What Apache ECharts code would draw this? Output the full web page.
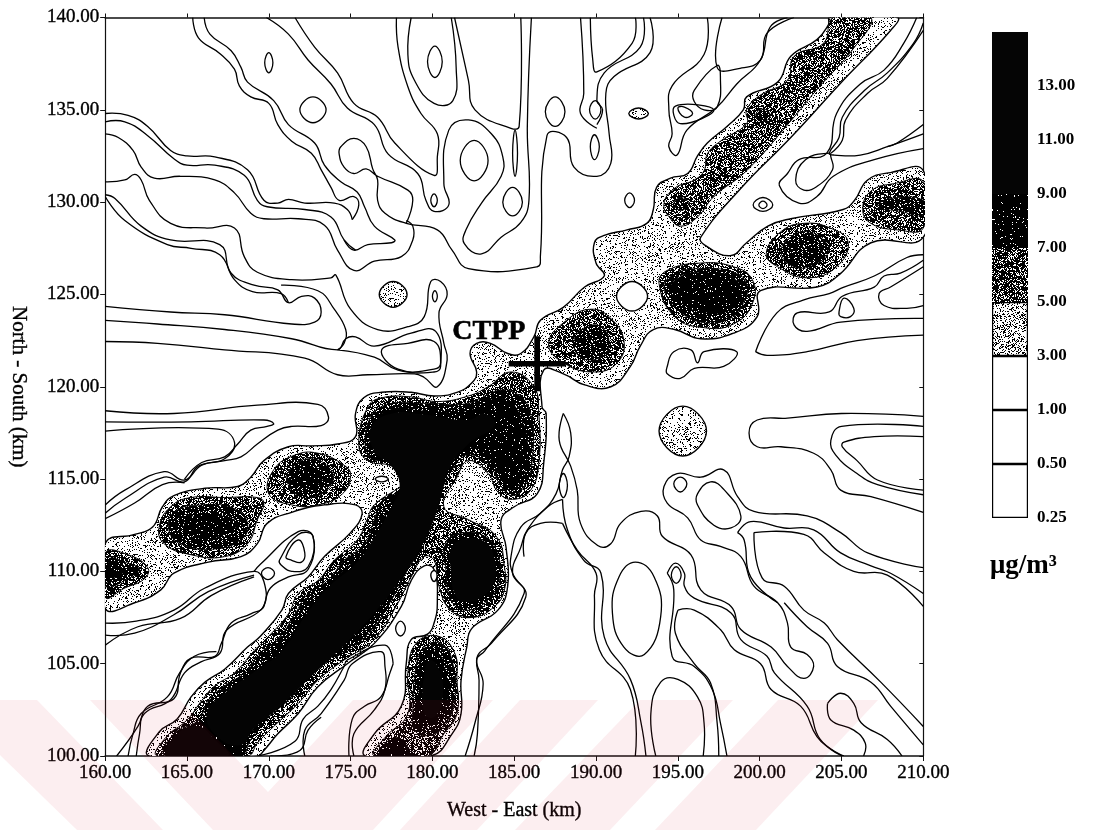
<!DOCTYPE html>
<html><head><meta charset="utf-8">
<style>html,body{margin:0;padding:0;background:#fff}#c{width:1093px;height:830px}</style>
<script src="https://cdn.jsdelivr.net/npm/echarts@6/dist/echarts.min.js"></script>
</head><body><div id="c"></div>
<script>
// ---------- values: contours in km (West-East, North-South) ----------
const scaleTicks = ['0.25','0.50','1.00','3.00','5.00','7.00','9.00','11.00','13.00',''];
const scaleBands = [1,1,1,1,1,1,1,1,1];
const sourceSite = [186.4,121.25];
const sourceLabelAt = [183.45,123.0];

const level3 = [
 [[162.7,100],[163.3,101.3],[164.4,102],[165.25,103.2],[166.1,104],[167.3,104.7],[168.7,105.9],[169.5,106.5],[170.8,107.9],[171.2,108.8],[172.4,109.7],[173.4,110.8],[175,112.1],[175.7,113.1],[175.3,113.6],[173.4,113.6],[171.4,113.2],[169.9,112.6],[169.3,111.5],[168.3,110.8],[166.3,110.5],[164.2,109.9],[163.4,109],[161.8,108.3],[160,108],[160,111.5],[161.8,112],[162.9,112.4],[163.5,113.5],[164.2,114.1],[166.1,114.5],[168.1,114.6],[168.9,115.1],[169.7,116],[171.2,116.75],[172.6,116.8],[174.2,116.9],[175.3,117.3],[175.3,118.55],[175.8,119.4],[176.9,119.7],[178.7,119.7],[180.1,119.5],[181.5,119.7],[182.4,120.2],[182.7,120.8],[182.3,121.8],[182.7,122.35],[183.55,122.35],[184.6,121.8],[185.4,121.8],[186.2,122.7],[186.6,123.6],[188,124.3],[189.3,125.4],[190.5,126],[190,126.7],[189.9,127.8],[190.5,128.2],[191.9,128.5],[193.1,128.85],[193.5,129.6],[193.7,130.8],[194.55,131.3],[195.6,131.55],[196.2,132.5],[196.8,133.2],[198,134.1],[199,135],[199.2,135.7],[201.1,136.5],[201.9,137.9],[203.5,138.8],[204.2,139.6],[204.3,140],[208.4,140],[208,139.3],[204.9,136.4],[201.9,133.5],[198.8,130.7],[196.4,128.1],[196.6,127.7],[198.2,127.1],[199.2,127.8],[200.5,128.7],[201.9,129.1],[205.1,129.6],[205.8,130.1],[206.6,131.2],[208,131.6],[210,131.7],[210,128.1],[206.8,127.8],[204.9,126.1],[203.5,125.4],[200.05,125.2],[199.85,123.8],[198.4,122.9],[196.4,122.6],[194.8,123.1],[193.5,123.1],[192.7,122.2],[192.1,121.1],[190.9,120],[189.3,120.1],[188,120.7],[186.8,120.9],[186.7,118.9],[186.95,118.55],[186.8,115.85],[186.4,114.2],[185,113.5],[184.2,112.8],[184.5,111.3],[184.6,109.2],[184,107.9],[182.4,106.9],[182.1,105.9],[181.75,104.1],[181.75,102.3],[181.2,101.2],[179.9,100],[175.9,100],[176.45,101.2],[178.1,102.7],[178.4,105],[178.7,106.3],[179.7,106.6],[180.1,107.2],[180.3,108.3],[180.1,110.1],[179.5,110.3],[178.7,109.5],[178.1,108.1],[176.45,106.1],[174.8,105],[173,103.75],[171.8,102.3],[170.55,101.2],[169.7,100.3],[169.3,100]],
 [[177.6,125.7],[178.45,125],[177.6,124.3],[176.75,125]],
 [[195.3,118.95],[196.75,117.6],[195.3,116.25],[193.85,117.6]],
 [[192.6,135.1],[193.2,134.8],[192.6,134.5],[192,134.8]]
];
const level3Holes = [
 [[192.2,125.7],[193.15,124.9],[192.2,124.1],[191.25,124.9]],
 [[176.9,115.15],[177.3,115],[176.9,114.85],[176.5,115]],
 [[180.1,110.05],[180.3,109.8],[180.1,109.45],[179.9,109.8]]
];
const level5 = [
 [[163.2,100],[163.7,101],[165,101.95],[165.9,103],[166.7,103.8],[167.9,104.5],[169.1,105.7],[169.9,106.4],[171.2,107.7],[171.8,108.8],[173,109.5],[174,110.6],[175.4,111.7],[176,112.8],[176.45,113.6],[178.3,114.8],[178.1,115.1],[177.5,115.7],[176.05,116],[175.5,116.9],[176.05,118.9],[176.9,119.4],[178.7,119.45],[180.3,119.2],[182.2,119.5],[183.4,120],[184.8,120.8],[186.2,120],[186.5,118.55],[186.5,115.85],[186,114.4],[184.9,113.9],[184,114.3],[183.4,115.3],[182.2,116],[181.5,115.1],[180.7,113.5],[182.2,112.8],[183.9,111.9],[184.4,110.25],[184.4,109],[183.8,108.1],[182.4,107.5],[181.1,107.9],[180.4,109.2],[180.1,110.6],[179.5,110.8],[178.7,109.7],[177.9,108.3],[176.45,106.3],[174.6,105.2],[173,104.1],[171.8,102.85],[170.3,101.6],[169.3,100.7],[168.7,100]],
 [[160,111],[161.4,110.9],[162.6,110.2],[162.4,109.6],[161.2,109.1],[160,108.6]],
 [[163.3,112.4],[164,113.5],[165.25,114],[167.3,114],[169.3,114],[169.7,113.7],[169.3,112.8],[168.7,111.5],[167.3,110.8],[165.25,110.9],[163.6,111.5]],
 [[170,114.2],[170.3,115.5],[171.6,116.3],[173,116.4],[174.6,115.75],[175,115.2],[174.5,114.2],[173,113.6],[171.4,113.6]],
 [[178.5,104.5],[179,106.1],[180.3,106.5],[181.35,105.6],[181.5,104.1],[181.5,102.3],[180.7,101.2],[179.7,100],[176.45,100],[177.1,101],[178.5,102.3]],
 [[187.1,122.35],[188.2,123.6],[189.7,124.2],[190.9,123.7],[191.7,122.5],[191.3,121.3],[189.9,120.8],[188,121.3]],
 [[193.85,125.6],[194.35,126.3],[196.4,126.7],[198.4,126.5],[199.55,125.8],[199.55,124.5],[198.4,123.4],[196.6,123.2],[194.8,123.8]],
 [[200.4,127.2],[201.3,128.4],[202.7,128.85],[204.3,128.6],[205.4,127.85],[204.7,126.5],[202.9,125.9],[201.1,126.5]],
 [[206.3,129.6],[206.8,130.6],[208.2,131],[210,131.1],[210,128.6],[208.4,128.5],[206.8,128.85]],
 [[194.15,129.9],[194.8,130.75],[196,131.2],[196.6,131.7],[196.8,132.6],[197.6,133.3],[199.2,134.25],[199.2,135],[200.05,135.8],[201.7,136.6],[202.1,137.9],[203.9,138.6],[204.5,140],[206.8,140],[205.8,138.4],[203.5,136.1],[201.9,134.4],[199.2,131.7],[197.2,130.3],[196.2,129.2],[195.2,128.7],[194.55,129.1]]
];
const level7 = [
 [[163.7,100],[164.2,101.2],[165.7,101.95],[166.3,103],[167.3,103.8],[168.5,104.5],[169.5,105.6],[170.55,106.3],[171.6,107.7],[172.4,108.8],[173.6,109.5],[174.6,110.6],[175.85,111.5],[176.45,112.8],[176.9,113.8],[178.3,114.6],[177.5,115.85],[176.15,116.2],[176.05,118],[177.1,119],[179.5,119.1],[182.2,119.1],[184,119.8],[185.2,119.6],[186,118.55],[186.1,116],[185.6,114.6],[184.9,114.1],[184.2,114.6],[183.5,115.7],[182.2,116.3],[181.2,115.5],[180.3,113.7],[179.5,111.5],[178.5,110.1],[177.5,108.45],[176.05,106.6],[174.2,105.4],[172.6,104.5],[171.4,103.2],[169.9,102],[168.9,100.9],[168.3,100]],
 [[160,110.7],[161.2,110.5],[162.1,110.1],[161.4,109.6],[160,109.2]],
 [[163.9,112.2],[164.2,113.2],[165.9,113.6],[167.9,113.4],[168.7,112.6],[168.3,111.7],[166.5,111.2],[164.6,111.5]],
 [[171.1,115],[171.6,115.75],[172.6,116.1],[173.7,115.6],[173.9,114.85],[173,114.1],[171.8,114.1]],
 [[180.8,110.25],[180.8,111.5],[181.5,112],[182.97,112],[183.9,111.15],[184.1,109.5],[183.4,108.45],[182.2,107.9],[181.2,108.35]],
 [[178.8,102.3],[179,104.85],[179.5,105.9],[180.5,106.1],[181.2,105.2],[181.35,103],[180.7,101.6],[179.7,101.1],[178.9,101.4]],
 [[188.65,122.5],[189.3,123.2],[190.3,123.25],[190.8,122.35],[190.3,121.6],[189.05,121.6]],
 [[194.15,125.4],[194.8,126.1],[196.4,126.4],[198.4,126.2],[199.2,125.6],[199.1,124.7],[198.2,123.7],[196.4,123.5],[195,124.2]],
 [[201.3,127.3],[201.9,128.1],[202.9,128.4],[203.9,127.95],[204.2,127.3],[203.3,126.6],[202.1,126.5]],
 [[207.2,129.75],[208,130.2],[210,130.1],[210,129.3],[208.6,129.5]],
 [[195.2,130.25],[195.65,129.9],[195.2,129.55],[194.75,129.9]],
 [[200.2,135.05],[200.65,134.7],[200.2,134.35],[199.75,134.7]]
];
const level9 = [
 [[164.4,100],[165,101.2],[166.5,102.3],[167.3,103.2],[168.7,104.1],[169.9,105.2],[171.2,106.3],[172.2,107.7],[173.2,108.8],[174.6,110.1],[176.25,111.3],[177.1,113.1],[177.6,114],[178.1,114.8],[177.5,115.85],[176.45,116.4],[176.25,117.8],[177.5,118.8],[179.5,118.7],[182.2,118.7],[184.2,119.4],[185.4,118.4],[185.8,116],[185,114.4],[184.2,115.1],[183.4,116.2],[182.2,116.7],[180.9,115.5],[179.9,113.5],[179.5,111.9],[178.5,110.2],[177.5,108.9],[176.3,107.4],[174.2,105.7],[172.6,104.6],[171.2,103.4],[169.8,102.1],[168.8,101.1],[168.2,100]],
 [[160,110.4],[160.8,110.25],[161.2,110],[160.6,109.7],[160,109.4]],
 [[164.8,112.4],[165.45,113],[167.3,113],[168.1,112.6],[167.3,112],[165.7,111.8]],
 [[171.4,115],[172.2,115.6],[173,115.5],[173.3,115],[172.6,114.6],[171.8,114.6]],
 [[179.2,103.75],[179.5,105.4],[180.3,105.6],[180.8,104.7],[180.9,103],[180.3,102],[179.5,101.6],[179,102.3]],
 [[176.65,100],[177.1,100.7],[177.9,101],[178.7,100.3],[179,100]],
 [[194.55,125.3],[195.2,126],[196.6,126.2],[198.2,126],[198.9,125.2],[198.4,124.25],[197,124],[195.4,124.4]]
];
const level11 = [
 [[167.3,103.4],[168.7,104.3],[170.8,105.7],[172.3,107.7],[173.7,109.2],[175.3,110.4],[176.35,111.7],[177.5,113.5],[178,114.6],[177.5,115.7],[176.45,116.5],[176.25,117.8],[177.5,118.55],[179.5,118.5],[182.2,118.2],[183.2,118.55],[183.8,117.9],[182.2,116.9],[181,115.5],[180.3,113.3],[179.3,111.3],[178,109.5],[176.6,107.9],[174.6,106],[172.6,104.3],[170.6,102.6],[169,101.4],[168.3,100.6],[166.9,101],[166.2,102.3]],
 [[163.8,100],[164.4,101.2],[165.7,101.6],[166.7,100.9],[167.5,100]],
 [[181.1,110.25],[181.1,111.15],[181.75,111.7],[183,111.7],[183.7,111],[183.8,109.5],[183,108.6],[182,108.35],[181.35,108.8]],
 [[179.5,104.5],[179.9,105.2],[180.5,104.5],[180.6,103],[180.1,102.1],[179.5,102.3]]
];
const openContours = [
 [[165.35,140],[165.7,138.9],[167,138.05],[167.9,137.2],[168.2,136.3],[168.9,135.7],[170,135.35],[170.55,134.2],[171.4,133.3],[172.6,132.65],[173.2,131.75],[173.8,130.8],[174.3,130.1],[175.2,130.3],[175.5,129.85],[175.1,129.05]],
 [[166.05,140],[166.4,139.1],[167.7,138.2],[168.3,137.3],[168.7,136.5],[170.3,135.5],[171.2,134.2],[172.8,133.2],[173.4,132],[174.4,131.1],[175.4,130.55],[175.85,129.75],[176.45,128.7],[177.7,127.95],[177.5,127.8],[176.05,127.7],[175.2,127.4],[174.6,127.95]],
 [[160,134.8],[161.4,134.7],[162.6,134.1],[164,132.8],[165,132.5],[166.7,132.45],[168.7,131.75],[169.7,130.1],[170.55,129.95],[171.2,130.15],[172.2,129.95],[174,129.95],[174.8,129.6],[175.1,129.05]],
 [[160,134.35],[161.2,134.35],[162.6,133.6],[164.2,132.35],[165,132],[166.7,132],[168.5,131.45],[169.3,130.1],[169.9,129.75],[172.2,129.6],[173.8,129.2],[174.6,127.95],[175.3,127.4]],
 [[160,133.7],[160.8,133.5],[161.7,132.8],[162.2,131.9],[163,131.3],[164.6,131.4],[166.7,131.2],[167.9,130.5],[168.9,129.4],[169.7,129.1],[171.8,129.1],[173.4,128.75],[174.2,127.4],[175.2,126.3],[176.45,126.8],[178.1,127.05],[178.8,127.95],[178.8,128.7],[178.4,129]],
 [[178.4,128.85],[178.8,130.1],[178.5,130.65],[176.65,131.4],[175.95,131.8],[175.2,131.55],[174.6,131.9],[174.3,132.6],[174.4,133],[175.2,133.45],[175.95,133],[176.35,131.8],[176.65,131.2],[176.65,130.1],[177.1,129.4],[178.4,128.85],[180.3,128.5],[181.2,127.4],[182.2,126.4],[186.4,126.5],[186.6,127.1],[187,133.6],[188.2,133.5],[188.65,131.9],[190.05,131.4],[190.9,132.1],[190.8,133.7],[190.6,135.9],[191.1,136.8],[193.3,138.1],[193.3,140]],
 [[160,131.1],[161.2,131.2],[161.8,131.5],[162.2,131.2],[162.7,130.1],[164,128.85],[166.1,128.6],[167.9,128.6],[168.5,127.05],[169.3,126.2],[171.4,125.8],[173.8,125.9],[174.1,126.05],[175,124.2],[176.65,123.1],[178.5,123.25],[179.5,123.8],[179.9,125.7],[180.5,125.7],[180.9,125],[180.4,124],[180.7,122.35],[180.9,121.45],[180.3,120],[179.5,120.5],[178.9,120.7],[176.05,120.65],[174.2,120.65],[172.2,121.55],[167.3,122],[163.2,122.35],[160,122.45]],
 [[160,130.4],[160.6,130.2],[162.2,128.7],[164,127.95],[167,127.7],[167.7,126.15],[169.1,125.5],[170.55,125.25],[171.2,124.55],[172,124.9],[172.8,124.8],[173.2,124.05],[172.8,123.5],[171.4,123.4],[167.3,123.9],[164,124.05],[160,124.35]],
 [[160,130.3],[161.2,129],[163.8,127.7],[165.25,127.5],[167,127.15],[167.9,125.8],[169,125.15],[170.75,125.05],[171.2,124.55]],
 [[170.75,125.5],[173,125.2],[174,124.2],[174.7,123.1],[174.6,122.35],[174.2,122]],
 [[160,123.6],[163.2,123.4],[167.3,123.1],[171.4,122.6],[174.2,122],[174.7,122.6],[175.3,122.7],[176.45,122.2],[178.7,122.9],[180.2,123],[180.5,121.1],[180.1,120.8],[177.9,120.9],[176.45,121.6],[174.2,122]],
 [[177.8,140],[177.9,138.4],[178.5,136.25],[179.3,134.8],[180.3,133.7],[180.3,132.45],[180.1,131.45],[177.7,133.2],[176.65,134.6],[175.2,135.35],[174.2,137],[172.8,138.4],[171.6,140]],
 [[169.85,140],[171.2,139.1],[172.4,137.7],[173.8,136.4],[174.8,135.1],[176.45,134.2],[177.3,132.6],[179.1,131.55],[179.6,130.1],[180.1,129.5],[181,129.85],[180.7,131],[181,133.9],[182.2,134.45],[183.6,133.7],[184.3,132.45],[184.2,131.4],[183,129.95],[182.05,128.5],[181.95,127.75],[183,127.2],[184.2,128.1],[185.4,128.9],[185.9,130.1],[185.8,134.1],[186.05,140]],
 [[181.35,140],[182.2,136.6],[182.6,135],[184.8,134],[185.3,134.1],[185.4,140]],
 [[178.7,140],[178.5,138],[178.9,136.6],[180.1,135.35],[181.25,135.5],[181.45,137.3],[181.15,140]],
 [[189.05,140],[189.25,135.9],[189.05,134.8],[190.05,134]],
 [[189.65,140],[189.8,137.7],[190.05,137.05],[192.2,138.6],[192.4,140]],
 [[192.9,140],[192.7,138.4],[190.5,137],[190.05,135.5],[190.4,135],[190.05,134.2]],
 [[196.8,140],[196.6,138],[194.65,136.3],[194.45,135],[194.65,133.7],[194.45,133],[194.95,132.55],[195.55,133.9],[197.4,135.15],[198.6,136.4],[200.05,137.7],[200.65,139.5],[201.7,140]],
 [[197.7,140],[197.4,137.3],[198.8,137.25],[200.05,137.7],[200.45,139.15],[202.1,140]],
 [[209.6,140],[208.8,138.6],[207.6,137.15],[206.15,136.4],[204.7,134.8],[204.1,132.65],[202.4,132.3],[201.7,131.55],[201.2,130.9],[202.4,129.95],[203.5,130.3],[204.5,131.4],[207,132.3],[210,132.9]],
 [[210,139.7],[209.4,138.6],[207.8,137],[206.4,136.05],[205.05,134.6],[204.85,133.5],[204.25,132.65],[204.55,132.55],[206.15,132.55],[207.8,133],[210,133.7]],
 [[210,139.3],[207.8,136.7],[206.6,135.9],[205.25,134.45],[205.05,133.35],[204.35,132.65]],
 [[210,134.2],[208.4,133.2],[207.8,133]],
 [[199.75,121.9],[201.05,124],[202.7,124.7],[204.25,125.05],[205.15,125.4],[207,126],[209,127],[210,127.15]],
 [[210,126.85],[208.6,126.15],[207.6,126],[207,125.4],[205.05,124.9],[204.25,124.05],[202.3,124],[202.1,123.35],[202.9,123],[204.95,123.5],[210,123.7]],
 [[199.75,121.9],[200.45,121.7],[202.9,121.9],[205.95,122.5],[210,122.8]],
 [[210,126.5],[208,125.4],[207.3,125.05],[207.6,124.4],[209,124.25],[210,124.4]],
 [[210,118.4],[205,118.55],[201.7,118.3],[199.85,118.2],[199.35,117.5],[199.85,116.75],[201.3,116.75],[203.3,116.4],[204.35,115.5],[204.95,114.4],[206.8,114.05],[210,113.2]],
 [[210,117.85],[205,117.85],[204.35,117.1],[204.65,116.3],[205.95,115.3],[207.2,114.7],[210,114.15]],
 [[210,117.3],[207,117.3],[205.15,117],[205.05,116.75],[205.95,116],[207.2,114.95],[210,114.4]],
 [[188,118.55],[187.75,117.1],[188.45,115.7],[188.85,114.4],[189.05,112.6],[190.1,111.4],[190.9,111.5],[191.5,112.6],[192.75,113.25],[193.75,113],[194.05,111.9],[195.8,110.9],[196.4,109],[198.25,108.1],[198.85,106.85],[200.7,105.9],[201.7,104.85],[202.7,104.2],[203.3,104.85],[202.9,105.5],[201.9,105.9],[201.7,107.2],[201.1,108.3],[199.65,109.2],[198.85,110.8],[197.6,111.35],[196.4,111.7],[195.6,112.9],[194.35,113.7],[194.15,114.6],[194.95,115.3],[196.4,115.1],[197.8,115.5],[198.65,114.05],[199.65,113.25],[202.9,113],[204.95,112.1],[206.6,111],[210,110.2]],
 [[188,118.55],[188.45,117.5],[188.35,116.2],[187.95,115.5],[187.55,114.2],[186.6,113.15],[185.4,112.4],[184.8,110.8],[184.9,109.9],[185.7,108.6],[183.6,106.1],[182.75,105.4],[182.85,104.1],[182.75,101.2],[182.55,100]],
 [[187.95,113.9],[187.05,113.5],[185.8,112.25],[185.4,111.3],[184.9,109.9],[185.6,108.8],[183.2,105.7],[182.7,105.2],[183.1,103.9],[182.6,101.8],[182,100]],
 [[187.95,112.6],[186.6,112.6],[185.7,112.05],[185.6,110.8]],
 [[187.95,113.9],[188.25,112.25],[189.25,110.6],[190.3,109.9],[190.5,106.45],[192.1,104.15],[192.75,101.8],[193.05,100]],
 [[187.95,112.6],[188.85,111.15],[190,109.9],[189.9,108.65],[190.2,105.75],[192.1,103.6],[192.4,100]],
 [[194.35,109.9],[194.85,110.45],[195.4,109.9],[195.4,109.2],[196,108.55],[198.25,107.75],[198.85,106.3],[200.45,105.4],[200.9,104.5],[202.9,102.7],[203.7,100.9],[205.15,100]],
 [[194.35,109.9],[194.75,109],[194.65,105.4],[196,104.85],[197.1,103.6],[197.6,101.8],[198,100]],
 [[195,107.9],[196,107.9],[197.6,106.85],[198.45,105.75],[200.05,105],[200.7,103.6],[202.5,102.7],[203.5,101.05],[204.35,100.35],[205.05,100]],
 [[195,107.9],[194.85,106.65],[196,105],[197,103.95],[197.4,101.8],[197.5,100]],
 [[193.65,100],[193.35,102.3],[193.95,104],[195,104.15],[196.2,103.2],[196.6,101.8],[196.55,100]],
 [[198.65,112.1],[199.45,112.7],[201.5,112.35],[203.3,112.25],[204.95,111],[206.8,110.3],[208,109.9],[210,108.8]],
 [[199.65,112.1],[202.7,112],[203.95,111],[205.75,110],[207.8,109.8],[210,108.1]],
 [[198.65,112.1],[199.05,111.7],[199.45,109.7],[201.1,108.3]],
 [[199.65,112.1],[200.15,109.65],[201.5,109.2],[202.7,107.9],[203.95,107.2],[204.75,106.3],[207.4,104],[210,101.6]],
 [[201.5,108.3],[202.9,107],[204.15,106.1],[204.75,104.85],[206.8,104],[208,102.7],[210,100.6]],
 [[204.15,102.85],[204.95,103.4],[205.75,102.85],[206.2,101.8],[207.8,100.9],[208.7,100]],
 [[204.15,102.85],[204.35,101.95],[205.75,101.4],[206.45,100.7],[206.35,100]],
 [[160,118.7],[164.2,118.55],[169.3,119],[173,119.05],[173.65,118.35],[173.2,117.9],[171.4,117.85],[170.55,117.65],[169.3,116.9],[168.3,116.2],[167.3,116],[165.9,115.75],[164.85,114.95],[163.6,115.4],[161.2,114.4],[160,113.6]],
 [[160,118.1],[165.25,118.1],[169.7,118.2],[170.3,118],[169.9,117.85],[168.9,117.65],[168.1,116.9],[167.3,116.2],[165.9,115.9],[164.85,115]],
 [[160,117.6],[166.9,117.7],[167.9,117],[167.3,116.1],[165.7,115.7],[164.85,114.85],[163.6,115.1],[161.2,113.95],[160,113.15]],
 [[160,112.85],[161.8,113.7],[163.5,114.7],[164.85,114.8]],
 [[160,107.2],[161.9,107.3],[164.2,107.9],[166.1,109.1],[169.1,110],[169.7,109.45],[169.7,108.1],[168.9,107.7],[167.7,107.2],[167.1,106.1],[166.7,105.4],[165.25,105.3],[164.6,104.5],[164.2,103.1],[162.6,102.7],[162,101.6],[160.7,100]],
 [[160,106.55],[161.8,106.65],[164.2,107.65],[166.3,108.9],[169.1,109.8]],
 [[160,106],[162,107],[164.6,107.45],[166.5,108.7],[169.1,109.7]],
 [[161.9,100],[162.1,101.2],[162.4,102.3],[164,103.05],[164.85,104.5],[165.85,105.1],[167,105.55],[167.4,106.8],[169.5,107.9],[170.1,109.1],[171.2,109.7],[172.4,110.1],[172.7,111.9],[171.8,112.15],[169.5,110.4],[169.1,110]],
 [[161.4,100],[161.7,101.2],[162.2,102.3],[163.8,103.2],[164.55,104.5],[165.45,105.4],[166.8,105.65]],
 [[169.3,100],[171.6,100.8],[172.1,102],[173,102.7],[173.8,103.6],[174.6,104.85],[174.8,105.2],[177.1,106],[177.6,105]],
 [[172.2,100],[172.2,101.4],[173.2,102.3],[174.6,104.1],[175.1,105],[176.85,105.65],[177.1,104.85],[177.1,103.6],[176.45,102.5],[175.2,101.2],[175.2,100]],
 [[174.9,100],[175.1,102],[175.85,102.7],[176.85,103.2],[177.4,104.5],[177.6,105]],
 [[170.1,100],[171.9,100.3],[172.4,101.4],[173.2,102.1]]
];
const closedContours = [
 [[176.9,122],[178.5,122.35],[180.1,122.45],[180.5,121.3],[180.1,120.95],[177.9,120.95]],
 [[170,138.1],[170.25,137.55],[170,137],[169.75,137.55]],
 [[172.7,135.7],[173.5,135],[172.7,134.3],[171.9,135]],
 [[180.15,138.45],[180.6,137.6],[180.15,136.75],[179.7,137.6]],
 [[182.55,133.35],[183.4,132.25],[182.55,131.15],[181.7,132.25]],
 [[185.05,133.9],[185.2,132.65],[185.05,131.4],[184.9,132.65]],
 [[184.9,130.8],[185.5,130],[184.9,129.25],[184.3,130]],
 [[180.1,130.45],[180.3,130.1],[180.1,129.75],[179.9,130.1]],
 [[180.15,125.2],[180.3,124.9],[180.15,124.6],[180,124.9]],
 [[187.5,135.7],[188.1,134.9],[187.5,134.1],[186.9,134.9]],
 [[189.95,135.5],[190.3,135],[189.95,134.5],[189.6,135]],
 [[189.9,133.65],[190.2,133],[189.9,132.3],[189.65,133]],
 [[192.05,130.5],[192.35,130.1],[192.05,129.7],[191.75,130.1]],
 [[197.4,137.4],[196,136.05],[196,135.45],[196.6,135],[197.4,135.15],[197.6,136.8]],
 [[195,135.1],[195.4,135.15],[195.9,134.8],[195.4,134.6]],
 [[194.85,135.2],[195.15,134.25],[197.2,135]],
 [[200.2,130.25],[200.8,129.85],[200.2,129.5],[199.6,129.85]],
 [[200.2,130.05],[200.45,129.85],[200.2,129.65],[199.95,129.85]],
 [[204.25,132.65],[202.8,132.3],[202.2,131.2],[202.7,130.65],[203.5,130.85],[204.45,131.75],[204.35,132.45]],
 [[204.85,124.05],[205.15,124.8],[205.75,124.25],[205.55,123.8],[204.95,123.8]],
 [[194.35,121.1],[194.75,121.9],[195.8,122],[196.2,121.3],[196.6,121.9],[198.6,121.9],[197.8,121.1],[196,121],[195.15,120.45],[194.35,120.7]],
 [[188,115.3],[188.25,114.65],[188,114],[187.75,114.65]],
 [[192.4,110.5],[193.55,109.7],[193.95,107.55],[192.95,105.5],[191.7,105.9],[191,107.75],[191.4,109.7]],
 [[194.9,110.25],[195.2,109.8],[194.9,109.35],[194.6,109.8]],
 [[195.15,115.1],[195.55,114.75],[195.15,114.3],[194.75,114.75]],
 [[196.2,114.2],[197,114.85],[197.85,114.4],[198.85,113],[198.25,112.35],[197.2,112.5],[196.2,113.6]],
 [[169.95,110.2],[170.35,109.9],[169.95,109.55],[169.55,109.9]],
 [[171.05,110.8],[171.8,111.7],[172.2,111],[172,110.5],[171.4,110.6]],
 [[170.65,110.6],[171.8,112],[172.7,111.9],[172.4,110.25],[171.4,110],[170.75,110.35]],
 [[178.05,107.3],[178.35,106.9],[178.05,106.5],[177.75,106.9]]
];

// ---------- scanned stipple textures (only styling) ----------
function speckle(density, seed) {
  const n = 128, c = document.createElement('canvas');
  c.width = c.height = n;
  const g = c.getContext('2d');
  g.fillStyle = '#fff'; g.fillRect(0, 0, n, n);
  g.fillStyle = '#000';
  let s = seed;
  for (let y = 0; y < n; y++) for (let x = 0; x < n; x++) {
    s = (s * 1103515245 + 12345) & 0x7fffffff;
    if ((s >> 8) % 1000 < density * 1000) g.fillRect(x, y, 1, 1);
  }
  return { image: c, repeat: 'repeat' };
}
const tex3 = speckle(0.17, 11), tex5 = speckle(0.68, 23), tex7 = speckle(0.87, 37), tex9 = speckle(0.96, 51);

// ---------- assemble the layered contour map ----------
const layers = [];
const add = (list, o) => list.forEach(p => layers.push(Object.assign({ pts: p }, o)));
add(level3, { fill: tex3, closed: true, lw: 1.4 });
add(level3Holes, { fill: '#fff', closed: true, lw: 1.4 });
add(level5, { fill: tex5, closed: true, lw: 1 });
add(level7, { fill: tex7, closed: true, lw: 0.8 });
add(level9, { fill: tex9, closed: true, lw: 0 });
add(level11, { fill: '#040404', closed: true, lw: 0 });
add(openContours, { fill: null, closed: false, lw: 1.3 });
add(closedContours, { fill: null, closed: true, lw: 1.3 });

const serif = '"Liberation Serif","Times New Roman",serif';
const heavy = { textBorderColor: '#000', textBorderWidth: 0.35 };
const chart = echarts.init(document.getElementById('c'), null, { renderer: 'canvas' });
const bandFills = ['#fff', '#fff', '#fff', speckle(0.3, 71), speckle(0.72, 83), speckle(0.96, 97), '#050505', '#050505', '#050505'];

chart.setOption({
  animation: false,
  backgroundColor: '#fff',
  title: { text: 'μg/m³', left: 985, top: 548, textStyle: { fontFamily: serif, fontSize: 27, fontWeight: 'bold', color: '#000' } },
  grid: [
    { left: 104, top: 17.5, width: 819.3, height: 738.5 },
    { left: 992, top: 32, width: 36, height: 486 }
  ],
  xAxis: [
    { gridIndex: 0, type: 'value', min: 160, max: 210, interval: 5, position: 'bottom',
      name: 'West - East (km)', nameLocation: 'middle', nameGap: 45,
      nameTextStyle: Object.assign({ fontFamily: serif, fontSize: 20, color: '#000' }, heavy),
      axisLine: { onZero: false, lineStyle: { color: '#111', width: 1.5 } },
      axisTick: { length: 5, lineStyle: { color: '#111' } }, splitLine: { show: false },
      axisLabel: Object.assign({ margin: 8, fontFamily: serif, fontSize: 19, color: '#000', formatter: v => v.toFixed(2), showMinLabel: true, showMaxLabel: true, hideOverlap: false }, heavy) },
    { gridIndex: 0, type: 'value', min: 160, max: 210, interval: 5, position: 'top',
      axisLine: { onZero: false, lineStyle: { color: '#111', width: 1.5 } },
      axisTick: { length: 4, lineStyle: { color: '#111' } }, axisLabel: { show: false }, splitLine: { show: false } },
    { gridIndex: 1, type: 'category', data: ['scale'], show: false }
  ],
  yAxis: [
    { gridIndex: 0, type: 'value', min: 100, max: 140, interval: 5, position: 'left',
      name: 'North - South (km)', nameLocation: 'middle', nameGap: 76, nameRotate: -90,
      nameTextStyle: Object.assign({ fontFamily: serif, fontSize: 21, color: '#000' }, heavy),
      axisLine: { onZero: false, lineStyle: { color: '#111', width: 1.2 } },
      axisTick: { length: 5, lineStyle: { color: '#111' } }, splitLine: { show: false },
      axisLabel: Object.assign({ margin: 6, fontFamily: serif, fontSize: 19, color: '#000', formatter: v => v.toFixed(2), showMinLabel: true, showMaxLabel: true, hideOverlap: false }, heavy) },
    { gridIndex: 0, type: 'value', min: 100, max: 140, interval: 5, position: 'right',
      axisLine: { onZero: false, lineStyle: { color: '#111', width: 1.2 } },
      axisTick: { inside: true, length: 4, lineStyle: { color: '#111' } }, axisLabel: { show: false }, splitLine: { show: false } },
    { gridIndex: 1, type: 'value', min: 0, max: 9, interval: 1, position: 'right',
      axisLine: { show: false }, axisTick: { show: false }, splitLine: { show: false },
      axisLabel: { margin: 9, fontFamily: serif, fontSize: 17, fontWeight: 'bold', color: '#000', showMaxLabel: false,
                   formatter: v => scaleTicks[v] } }
  ],
  series: [
    { type: 'custom', xAxisIndex: 0, yAxisIndex: 0, clip: true, silent: true, z: 2,
      data: layers.map((_, i) => [i]),
      encode: { x: -1, y: -1 },
      renderItem: (params, api) => {
        const l = layers[api.value(0)];
        const points = l.pts.map(p => api.coord(p));
        return {
          type: l.closed ? 'polygon' : 'polyline',
          shape: { points, smooth: 0.45 },
          style: { fill: l.fill || (l.closed ? 'transparent' : null), stroke: l.lw ? '#000' : null, lineWidth: l.lw }
        };
      } },
    { type: 'scatter', xAxisIndex: 0, yAxisIndex: 0, z: 5, silent: true,
      data: [sourceSite], symbol: 'path://M0 45H100V55H0Z M45 0H55V100H45Z', symbolSize: [57, 55],
      itemStyle: { color: '#000', opacity: 1 } },
    { type: 'scatter', xAxisIndex: 0, yAxisIndex: 0, z: 6, silent: true,
      data: [sourceLabelAt], symbolSize: 0, itemStyle: { opacity: 1 },
      label: { show: true, position: 'inside', formatter: 'CTPP', fontFamily: serif, fontSize: 28, fontWeight: 'bold', color: '#000', opacity: 1, textBorderColor: '#000', textBorderWidth: 0.6 } },
    ...scaleBands.map((v, i) => ({
      type: 'bar', xAxisIndex: 2, yAxisIndex: 2, stack: 'scale', barWidth: '100%', silent: true,
      data: [v], itemStyle: { color: bandFills[i], borderColor: '#000', borderWidth: i < 4 ? 1.2 : 0 }
    }))
  ],
  graphic: { elements: [
    [[0,700],[37,700],[163,830],[77,830],[0,755]],
    [[90,700],[180,700],[268,792],[353,700],[493,700],[373,830],[213,830]],
    [[520,700],[598,700],[477,830],[400,830]],
    [[640,700],[733,700],[610,830],[515,830]],
    [[778,700],[878,700],[756,830],[655,830]]
  ].map(points => ({ type: 'polygon', silent: true, z: 100, shape: { points }, style: { fill: 'rgba(215,30,60,0.075)' } })) }
});
</script></body></html>
